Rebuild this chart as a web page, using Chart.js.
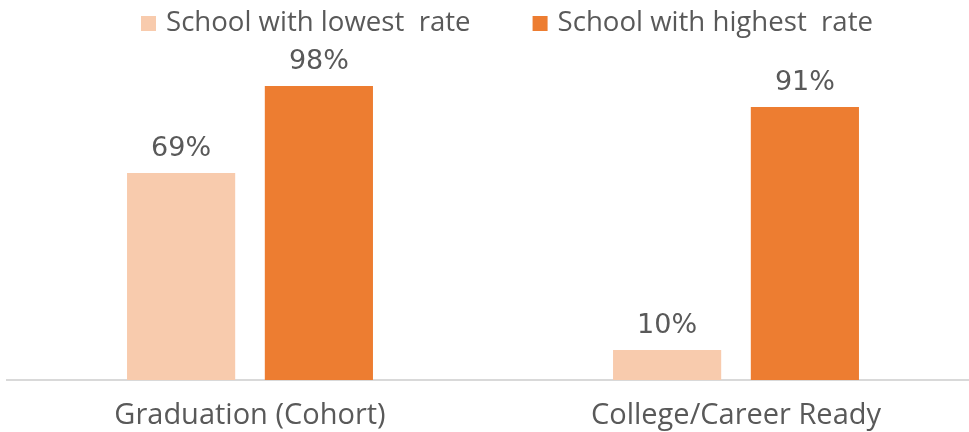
<!DOCTYPE html>
<html lang="en">
<head>
<meta charset="UTF-8">
<title>School rates</title>
<script src="https://cdn.jsdelivr.net/npm/chart.js"></script>
<style>
  html, body { margin: 0; padding: 0; background: #fff; overflow: hidden; }
  #box { width: 979px; height: 432px; }
</style>
</head>
<body>
<div id="box"><canvas id="grafico"></canvas></div>
<script>
// data
const categorias = ['Graduation (Cohort)', 'College/Career Ready'];
const menorTaxa = [69, 10];
const maiorTaxa = [98, 91];
const nomesSeries = ['School with lowest  rate', 'School with highest  rate'];
const coresSeries = ['#F8CBAD', '#ED7D31'];

const cinza = '#595959';
const fonteTexto = '"Open Sans", sans-serif';

// legend drawn by hand so the spacing matches the original
const legenda = {
  id: 'legenda',
  afterDraw(chart) {
    const ctx = chart.ctx;
    const caixa = 15, folga = 10, entre = 62;
    ctx.save();
    ctx.font = '27.6px ' + fonteTexto;
    ctx.textBaseline = 'middle';
    const larguras = chart.data.datasets.map(ds => ctx.measureText(ds.label).width);
    let total = entre * (larguras.length - 1);
    larguras.forEach(w => { total += caixa + folga + w; });
    let x = 507 - total / 2;
    chart.data.datasets.forEach(function (ds, i) {
      ctx.fillStyle = ds.backgroundColor;
      ctx.fillRect(x, 16, caixa, caixa);
      ctx.fillStyle = cinza;
      ctx.fillText(ds.label, x + caixa + folga, 23);
      x += caixa + folga + larguras[i] + entre;
    });
    ctx.restore();
  }
};

// value labels above the bars
const rotulos = {
  id: 'rotulos',
  afterDatasetsDraw(chart) {
    const ctx = chart.ctx;
    ctx.save();
    ctx.font = '27px "DejaVu Sans"';
    ctx.fillStyle = cinza;
    ctx.textAlign = 'center';
    ctx.textBaseline = 'alphabetic';
    chart.data.datasets.forEach(function (ds, i) {
      chart.getDatasetMeta(i).data.forEach(function (barra, j) {
        ctx.fillText(ds.data[j] + '%', barra.x, barra.y - 17);
      });
    });
    ctx.restore();
  }
};

const ctx = document.getElementById('grafico').getContext('2d');
new Chart(ctx, {
  type: 'bar',
  data: {
    labels: categorias,
    datasets: [
      {
        label: nomesSeries[0],
        data: menorTaxa,
        backgroundColor: coresSeries[0],
        categoryPercentage: 0.567,
        barPercentage: 0.785
      },
      {
        label: nomesSeries[1],
        data: maiorTaxa,
        backgroundColor: coresSeries[1],
        categoryPercentage: 0.567,
        barPercentage: 0.785
      }
    ]
  },
  options: {
    responsive: true,
    maintainAspectRatio: false,
    animation: false,
    layout: { padding: { left: 7, right: 0, top: 80, bottom: 0 } },
    plugins: {
      legend: { display: false },
      tooltip: { enabled: false }
    },
    scales: {
      x: {
        grid: { display: false, drawTicks: false },
        border: { display: true, color: '#D9D9D9', width: 2 },
        ticks: {
          color: cinza,
          font: { family: 'Open Sans', size: 29 },
          padding: 18
        },
        afterFit(s) { s.height = 52; }
      },
      y: {
        display: false,
        min: 0,
        max: 100
      }
    }
  },
  plugins: [legenda, rotulos]
});
</script>
</body>
</html>
